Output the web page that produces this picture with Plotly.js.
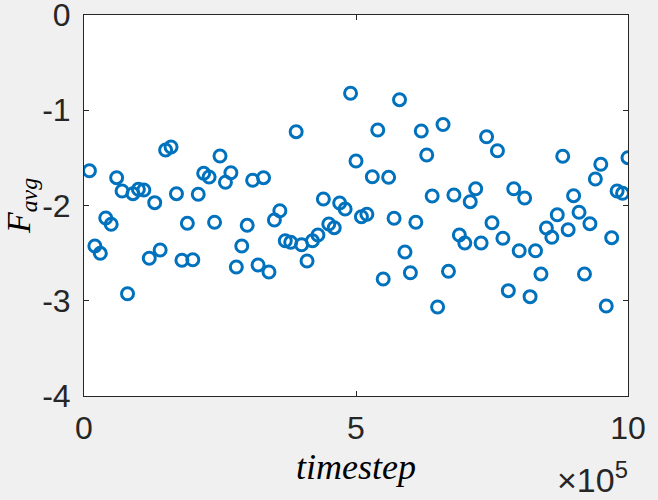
<!DOCTYPE html>
<html>
<head>
<meta charset="utf-8">
<script src="https://cdn.plot.ly/plotly-3.0.1.min.js"></script>
<style>html,body{margin:0;padding:0;background:#f0f0f0;}#chart{width:658px;height:500px;}</style>
</head>
<body>
<div id="chart"></div>
<script>
// timestep index (x 10^4)
const stepIndex = [];
for (let i = 1; i <= 100; i++) stepIndex.push(i);
const timesteps = stepIndex.map(i => i * 10000);

const Favg = [
  -1.635, -2.425, -2.502, -2.131, -2.197, -1.708, -1.848, -2.926, -1.876, -1.830,
  -1.837, -2.554, -1.970, -2.467, -1.417, -1.386, -1.876, -2.575, -2.187, -2.569,
  -1.882, -1.662, -1.701, -2.176, -1.480, -1.756, -1.656, -2.646, -2.425, -2.208,
  -1.735, -2.625, -1.708, -2.698, -2.152, -2.055, -2.370, -2.386, -1.225, -2.412,
  -2.583, -2.370, -2.310, -1.932, -2.194, -2.233, -1.974, -2.037, -0.822, -1.533,
  -2.118, -2.092, -1.698, -1.207, -2.772, -1.704, -2.134, -0.889, -2.488, -2.706,
  -2.176, -1.218, -1.470, -1.900, -3.066, -1.150, -2.691, -1.890, -2.310, -2.394,
  -1.960, -1.824, -2.394, -1.278, -2.181, -1.425, -2.344, -2.894, -1.824, -2.475,
  -1.921, -2.957, -2.475, -2.719, -2.236, -2.334, -2.097, -1.483, -2.254, -1.897,
  -2.071, -2.719, -2.191, -1.722, -1.567, -3.055, -2.338, -1.848, -1.872, -1.498
];

const xTickVals = [0, 500000, 1000000];
const xTickText = ['0', '5', '10'];
const yTickVals = [-4, -3, -2, -1, 0];
const yTickText = ['-4', '-3', '-2', '-1', '0'];

const axisColor = '#262626';
const tickFont = {family: 'Liberation Sans, Arial, sans-serif', size: 32, color: axisColor};

const trace = {
  x: timesteps,
  y: Favg,
  type: 'scatter',
  mode: 'markers',
  marker: {
    symbol: 'circle-open',
    size: 12,
    color: '#0072BD',
    line: {width: 3, color: '#0072BD'}
  },
  hoverinfo: 'x+y'
};

const layout = {
  width: 658,
  height: 500,
  paper_bgcolor: '#f0f0f0',
  plot_bgcolor: '#ffffff',
  margin: {l: 84, r: 30, t: 15, b: 104},
  showlegend: false,
  xaxis: {
    range: [0, 1000000],
    tickmode: 'array',
    tickvals: xTickVals,
    ticktext: xTickText,
    ticks: 'inside',
    ticklen: 5,
    tickcolor: axisColor,
    tickfont: tickFont,
    ticklabeloverflow: 'allow',
    showline: true,
    linecolor: axisColor,
    linewidth: 1,
    mirror: 'ticks',
    showgrid: false,
    zeroline: false,
    ticklabelstandoff: 4,
    title: {
      text: '<i>timestep</i>',
      font: {family: 'Liberation Serif, Times New Roman, serif', size: 36, color: '#000000'},
      standoff: 8
    }
  },
  yaxis: {
    range: [-4, 0],
    tickmode: 'array',
    tickvals: yTickVals,
    ticktext: yTickText,
    ticks: 'inside',
    ticklen: 5,
    tickcolor: axisColor,
    tickfont: tickFont,
    ticklabeloverflow: 'allow',
    showline: true,
    linecolor: axisColor,
    linewidth: 1,
    mirror: 'ticks',
    showgrid: false,
    zeroline: false,
    ticklabelstandoff: 6,
    title: {
      text: '<i>F</i><sub><i>avg</i></sub>',
      font: {family: 'Liberation Serif, Times New Roman, serif', size: 34, color: '#000000'},
      standoff: 9
    }
  },
  annotations: [{
    xref: 'paper', yref: 'paper',
    x: 1, y: 0,
    xanchor: 'right', yanchor: 'top',
    yshift: -58,
    xshift: 2,
    showarrow: false,
    text: '×10<sup>5</sup>',
    font: {family: 'Liberation Sans, Arial, sans-serif', size: 34, color: axisColor}
  }]
};

Plotly.newPlot('chart', [trace], layout, {displayModeBar: false});
</script>
</body>
</html>
